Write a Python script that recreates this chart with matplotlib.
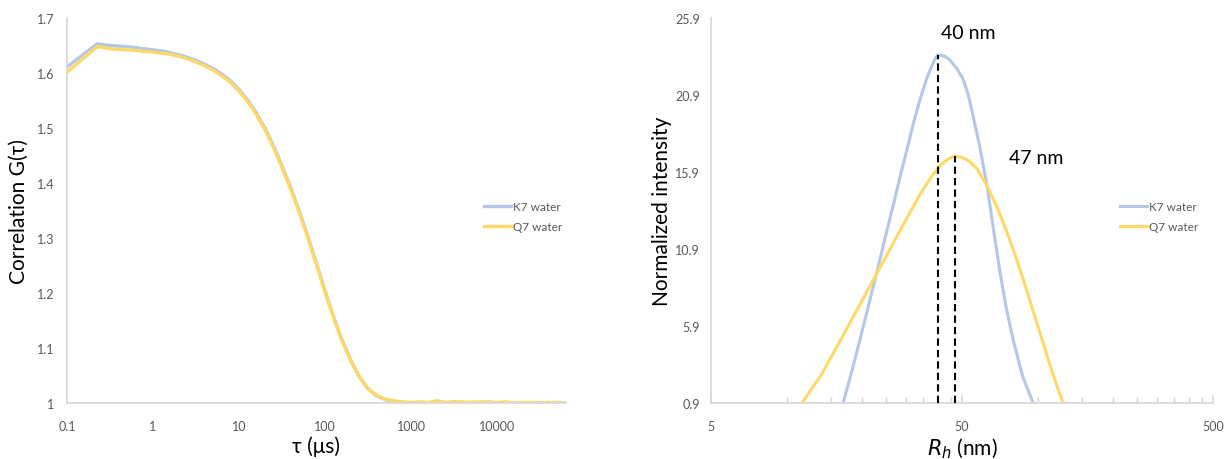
import matplotlib
matplotlib.use("Agg")
import matplotlib.pyplot as plt
from matplotlib.ticker import FixedLocator, NullFormatter, NullLocator

plt.rcParams['font.family'] = ['Lato', 'DejaVu Sans']

BLUE = '#B4C7E7'
YELLOW = '#FFD966'
GREY_AX = '#D9D9D9'
GREY_TXT = '#595959'

# --- correlation functions (tau in microseconds) ---
tau = [0.1, 0.126, 0.158, 0.2, 0.224, 0.251, 0.316, 0.398, 0.501, 0.631, 0.794, 1,
       1.26, 1.58, 2, 2.51, 3.16, 3.98, 5.01, 6.31, 7.94, 10,
       12.6, 15.8, 20, 25.1, 31.6, 39.8, 50.1, 63.1, 79.4, 100,
       126, 158, 200, 251, 316, 398, 501, 631, 794, 1000,
       1260, 1580, 2000, 2510, 3160, 3980, 5010, 6310, 7940, 10000,
       12600, 15800, 20000, 25100, 31600, 39800, 50100, 63000]
g_k7 = [1.611, 1.623, 1.635, 1.647, 1.653, 1.652, 1.650, 1.649, 1.648, 1.646, 1.644, 1.642,
        1.640, 1.637, 1.633, 1.6285, 1.623, 1.616, 1.608, 1.598, 1.586, 1.570,
        1.551, 1.528, 1.500, 1.468, 1.431, 1.392, 1.349, 1.303, 1.254, 1.204,
        1.156, 1.114, 1.077, 1.047, 1.026, 1.013, 1.006, 1.003, 1.001, 1.000,
        1.001, 0.999, 1.002, 1.000, 1.002, 0.999, 1.001, 1.000, 1.002, 1.000,
        1.001, 1.000, 0.999, 1.001, 1.000, 1.001, 1.000, 1.000]
g_q7 = [1.601, 1.6144, 1.6279, 1.6413, 1.648, 1.647, 1.644, 1.643, 1.642, 1.641, 1.639, 1.638,
        1.636, 1.634, 1.630, 1.626, 1.620, 1.613, 1.605, 1.595, 1.583, 1.567,
        1.548, 1.525, 1.497, 1.465, 1.428, 1.389, 1.346, 1.300, 1.251, 1.201,
        1.154, 1.112, 1.076, 1.047, 1.026, 1.014, 1.007, 1.004, 1.002, 1.001,
        1.002, 1.001, 1.004, 1.001, 1.002, 1.002, 1.001, 1.002, 1.001, 1.001,
        1.002, 1.000, 1.001, 1.001, 1.000, 1.001, 1.000, 1.000]
tau_ticks = [0.1, 1, 10, 100, 1000, 10000]
tau_labels = ['0.1', '1', '10', '100', '1000', '10000']
g_ticks = [1, 1.1, 1.2, 1.3, 1.4, 1.5, 1.6, 1.7]
g_labels = ['1', '1.1', '1.2', '1.3', '1.4', '1.5', '1.6', '1.7']

# --- size distributions ---
rh_k7 = [16.79, 18.15, 19.63, 21.18, 22.90, 24.66, 26.56, 28.32, 30.20, 32.06,
         34.04, 36.23, 37.93, 39.09, 40.0, 41.12, 42.56, 44.57, 47.75, 50.46,
         52.96, 55.32, 58.74, 62.94, 66.69, 70.80, 75.16, 79.80, 86.91, 95.94]
int_k7 = [0.9, 2.9, 5.06, 7.2, 9.41, 11.6, 13.69, 15.6, 17.39, 19.1,
          20.64, 22.0, 22.8, 23.25, 23.5, 23.48, 23.42, 23.2, 22.6, 21.94,
          20.9, 19.54, 17.6, 14.99, 12.2, 9.41, 7.0, 5.06, 2.7, 0.9]
rh_q7 = [11.52, 12.56, 13.77, 14.89, 16.56, 18.15, 19.91, 21.82, 23.93, 26.24,
         28.77, 31.55, 34.59, 37.93, 41.59, 44.57, 47.0, 50.0, 53.58, 57.41,
         62.94, 69.02, 75.68, 82.98, 90.99, 99.76, 109.4, 117.2, 126.2]
int_q7 = [0.9, 1.8, 2.75, 3.75, 5.1, 6.3, 7.5, 8.7, 9.9, 11.1,
          12.3, 13.5, 14.65, 15.65, 16.45, 16.8, 16.92, 16.85, 16.6, 16.1,
          14.99, 13.6, 11.95, 10.1, 8.1, 6.0, 3.9, 2.4, 0.9]
peak_rh = [40, 47]
peak_int = [23.5, 16.92]
peak_labels = ['40 nm', '47 nm']
int_ticks = [0.9, 5.9, 10.9, 15.9, 20.9, 25.9]
rh_ticks = [5, 50, 500]
rh_minor = [10, 15, 20, 25, 30, 35, 40, 45, 100, 150, 200, 250, 300, 350, 400, 450]


def style_axes(ax):
    for side in ('top', 'right'):
        ax.spines[side].set_visible(False)
    for side in ('left', 'bottom'):
        ax.spines[side].set_color(GREY_AX)
        ax.spines[side].set_linewidth(1.3)
    ax.tick_params(which='both', colors=GREY_AX, labelcolor=GREY_TXT, labelsize=9)


fig = plt.figure(figsize=(12.27, 4.6), dpi=100)

# left: correlation curves
ax1 = fig.add_axes([0.0546, 0.1217, 0.4066, 0.837])
ax1.plot(tau, g_k7, color=BLUE, lw=2.4, label='K7 water', solid_joinstyle='round')
ax1.plot(tau, g_q7, color=YELLOW, lw=2.4, label='Q7 water', solid_joinstyle='round')
ax1.set_xscale('log')
ax1.set_xlim(0.1, 63000)
ax1.set_ylim(1, 1.7)
ax1.xaxis.set_major_locator(FixedLocator(tau_ticks))
ax1.set_xticklabels(tau_labels)
ax1.xaxis.set_minor_locator(NullLocator())
ax1.xaxis.set_minor_formatter(NullFormatter())
ax1.set_yticks(g_ticks)
ax1.set_yticklabels(g_labels)
style_axes(ax1)
ax1.tick_params(axis='both', length=0)
ax1.tick_params(axis='x', pad=12)
ax1.tick_params(axis='y', pad=9)
ax1.set_xlabel('τ (μs)', fontsize=15)
ax1.set_ylabel('Correlation G(τ)', fontsize=15)
ax1.yaxis.set_label_coords(-0.076, 0.5)
ax1.xaxis.set_label_coords(0.5, -0.085)
ax1.legend(loc='center left', bbox_to_anchor=(0.836, 0.485), frameon=False,
           fontsize=8.5, labelcolor=GREY_TXT, handlelength=2.3, handletextpad=0.15,
           labelspacing=0.75, borderpad=0, borderaxespad=0)

# right: size distributions
ax2 = fig.add_axes([0.5795, 0.1217, 0.4091, 0.837])
ax2.plot(rh_k7, int_k7, color=BLUE, lw=2.2, label='K7 water', solid_joinstyle='round')
ax2.plot(rh_q7, int_q7, color=YELLOW, lw=2.2, label='Q7 water', solid_joinstyle='round')
ax2.vlines(peak_rh, int_ticks[0], peak_int, colors='black', linestyles=(0, (3.5, 2)),
           lw=1.5, zorder=3)
label_offsets = [(22, 10), (58, -7)]
for x, y, txt, off in zip(peak_rh, peak_int, peak_labels, label_offsets):
    ax2.annotate(txt, (x, y), xytext=off, textcoords='offset points',
                 ha='center', va='bottom', fontsize=14, color='black')
ax2.set_xscale('log')
ax2.set_xlim(5, 500)
ax2.set_ylim(0.9, 25.9)
ax2.xaxis.set_major_locator(FixedLocator(rh_ticks))
ax2.set_xticklabels([str(v) for v in rh_ticks])
ax2.xaxis.set_minor_locator(FixedLocator(rh_minor))
ax2.xaxis.set_minor_formatter(NullFormatter())
ax2.set_yticks(int_ticks)
ax2.set_yticklabels([f'{v:.1f}' for v in int_ticks])
style_axes(ax2)
ax2.tick_params(axis='y', length=0, pad=8)
ax2.tick_params(axis='x', which='major', direction='in', length=6, width=1.2, pad=12)
ax2.tick_params(axis='x', which='minor', direction='in', length=4, width=1.0)
ax2.set_xlabel('$R_h$ (nm)', fontsize=15)
ax2.set_ylabel('Normalized intensity', fontsize=15)
ax2.yaxis.set_label_coords(-0.078, 0.5)
ax2.xaxis.set_label_coords(0.5, -0.085)
ax2.legend(loc='center left', bbox_to_anchor=(0.815, 0.485), frameon=False,
           fontsize=8.5, labelcolor=GREY_TXT, handlelength=2.3, handletextpad=0.15,
           labelspacing=0.75, borderpad=0, borderaxespad=0)

fig.savefig('out.png', dpi=100)
